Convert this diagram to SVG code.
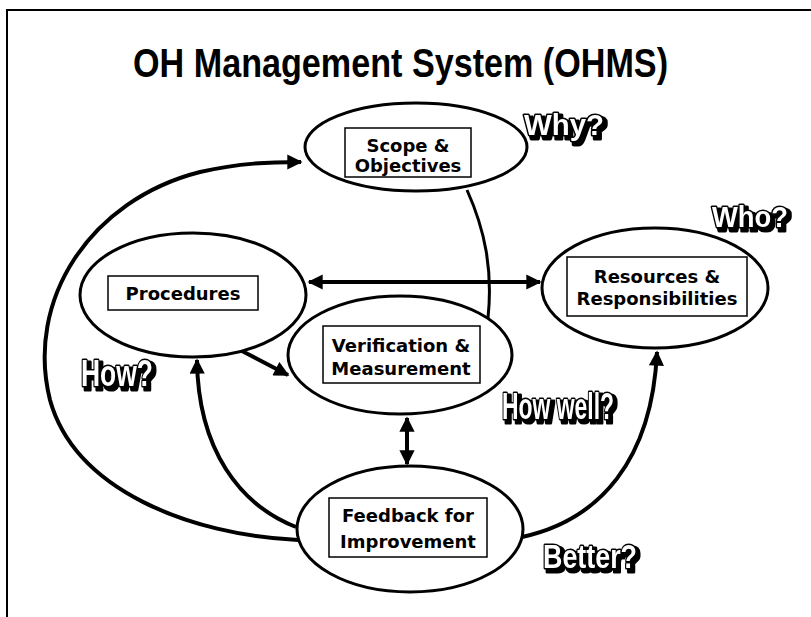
<svg xmlns="http://www.w3.org/2000/svg" width="811" height="617" viewBox="0 0 811 617">
  <defs>
    <style>
      .frame { stroke: #000; stroke-width: 2; fill: none; }
      .title { font-family: "Liberation Sans", Arial, sans-serif; font-weight: bold; font-size: 40px; fill: #000; }
      .oval { fill: #fff; stroke: #000; stroke-width: 3; }
      .box { fill: #fff; stroke: #000; stroke-width: 1.5; }
      .lbl { font-family: "DejaVu Sans", Verdana, sans-serif; font-weight: bold; font-size: 18px; fill: #000; text-anchor: middle; }
      .conn { fill: none; stroke: #000; stroke-width: 4; }
      .q { font-family: "Liberation Sans", Arial, sans-serif; font-weight: bold; fill: #fff; stroke: #000; stroke-width: 3; stroke-linejoin: round; paint-order: stroke; filter: url(#dropShadow); }
    </style>
    <!-- solid offset shadow behind the outlined captions -->
    <filter id="dropShadow" x="-10%" y="-20%" width="130%" height="150%">
      <feMorphology in="SourceAlpha" operator="dilate" radius="0.8" result="thick"/>
      <feOffset in="thick" dx="3" dy="3" result="off"/>
      <feFlood flood-color="#000"/>
      <feComposite in2="off" operator="in" result="shadow"/>
      <feMerge>
        <feMergeNode in="shadow"/>
        <feMergeNode in="SourceGraphic"/>
      </feMerge>
    </filter>
    <marker id="arrow" viewBox="0 0 10 10" refX="9" refY="5" markerWidth="4.2" markerHeight="3.8" orient="auto-start-reverse" markerUnits="strokeWidth">
      <path d="M0,0 L10,5 L0,10 z" fill="#000"/>
    </marker>
  </defs>

  <rect width="811" height="617" fill="#fff"/>

  <!-- page frame -->
  <path class="frame" d="M7,617 V10 H811"/>

  <text class="title" x="133" y="77" textLength="535" lengthAdjust="spacingAndGlyphs">OH Management System (OHMS)</text>

  <!-- connectors -->
  <g id="connectors">
    <path class="conn" d="M298,540 C190,535 75,490 50,400 C25,300 90,200 200,172 C240,163 270,162 301,162" marker-end="url(#arrow)"/>
    <path class="conn" d="M296,527 C240,505 198,450 197,360" marker-end="url(#arrow)"/>
    <path class="conn" d="M522,537 C600,520 652,460 657,352" marker-end="url(#arrow)"/>
    <path class="conn" d="M407,418 V464" marker-start="url(#arrow)" marker-end="url(#arrow)"/>
    <path class="conn" d="M309,282 H540" marker-start="url(#arrow)" marker-end="url(#arrow)"/>
    <path class="conn" d="M240,350 L288,375" marker-end="url(#arrow)"/>
    <path d="M467,190 C485,230 493,270 488,318" fill="none" stroke="#000" stroke-width="3"/>
  </g>

  <!-- nodes -->
  <g id="scope">
    <ellipse class="oval" cx="416" cy="147" rx="111" ry="44"/>
    <rect class="box" x="345" y="128" width="126" height="49"/>
    <text class="lbl" x="408" y="152">Scope &amp;</text>
    <text class="lbl" x="408" y="172">Objectives</text>
  </g>

  <g id="procedures">
    <ellipse class="oval" cx="193" cy="295" rx="113" ry="62"/>
    <rect class="box" x="108" y="276" width="150" height="34"/>
    <text class="lbl" x="183" y="300">Procedures</text>
  </g>

  <g id="verification">
    <ellipse class="oval" cx="400" cy="355" rx="112" ry="59"/>
    <rect class="box" x="323" y="326" width="157" height="57"/>
    <text class="lbl" x="401" y="352">Verification &amp;</text>
    <text class="lbl" x="401" y="375">Measurement</text>
  </g>

  <g id="resources">
    <ellipse class="oval" cx="655" cy="288" rx="113" ry="60"/>
    <rect class="box" x="567" y="257" width="180" height="59"/>
    <text class="lbl" x="657" y="283">Resources &amp;</text>
    <text class="lbl" x="657" y="305">Responsibilities</text>
  </g>

  <g id="feedback">
    <ellipse class="oval" cx="410" cy="529" rx="113" ry="63"/>
    <rect class="box" x="329" y="498" width="158" height="59"/>
    <text class="lbl" x="408" y="522">Feedback for</text>
    <text class="lbl" x="408" y="548">Improvement</text>
  </g>

  <!-- question captions -->
  <text id="why" class="q" font-size="29" x="524" y="135" textLength="80" lengthAdjust="spacingAndGlyphs">Why?</text>
  <text id="who" class="q" font-size="29" x="712" y="227" textLength="76" lengthAdjust="spacingAndGlyphs">Who?</text>
  <text id="how" class="q" font-size="36" x="81" y="386" textLength="72" lengthAdjust="spacingAndGlyphs">How?</text>
  <text id="howwell" class="q" font-size="36" x="502" y="419" textLength="112" lengthAdjust="spacingAndGlyphs">How well?</text>
  <text id="better" class="q" font-size="33" x="543" y="568" textLength="94" lengthAdjust="spacingAndGlyphs">Better?</text>
</svg>
